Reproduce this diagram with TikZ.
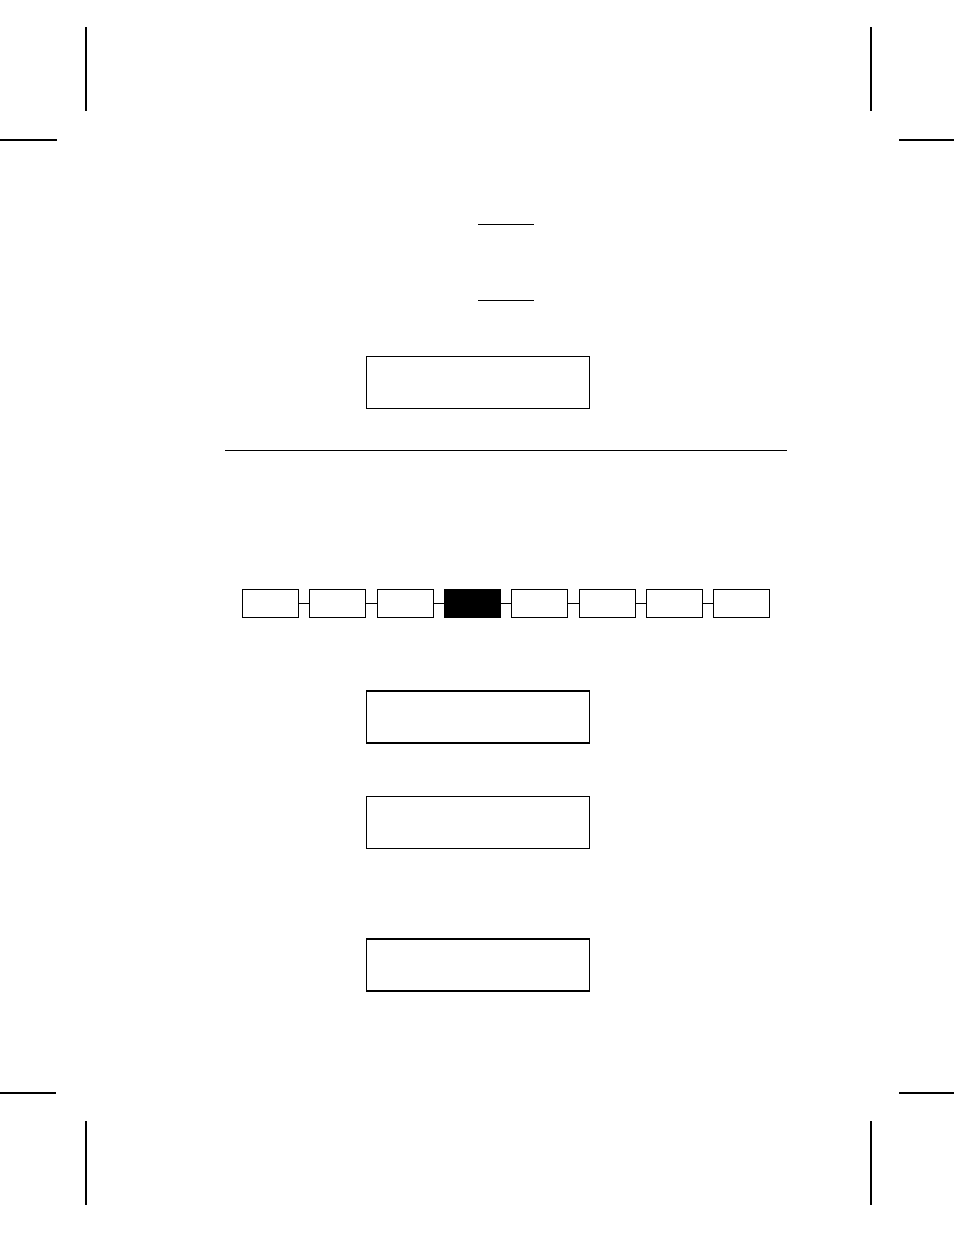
\documentclass[tikz,border=0pt]{standalone}
\begin{document}
\begin{tikzpicture}[x=1pt,y=-1pt,
  crop/.style={line width=2pt},
  thin rule/.style={line width=1pt},
  panel/.style={draw,line width=1.5pt,inner sep=0pt,outer sep=0pt,minimum width=223pt,minimum height=52pt},
  cell/.style={draw,line width=1pt,inner sep=0pt,outer sep=0pt,minimum width=56pt,minimum height=28pt},
  link/.style={line width=1pt}]
\useasboundingbox[fill=white] (0,0) rectangle (954,1235);
% crop marks
\draw[crop] (86,27) -- (86,111);
\draw[crop] (0,140) -- (57,140);
\draw[crop] (871,27) -- (871,111);
\draw[crop] (899,140) -- (954,140);
\draw[crop] (0,1093) -- (56,1093);
\draw[crop] (86,1121) -- (86,1205);
\draw[crop] (899,1093) -- (954,1093);
\draw[crop] (871,1121) -- (871,1205);
% short lines
\coordinate (s1a) at (478,224); \coordinate (s1b) at (534,224);
\coordinate (s2a) at (478,300); \coordinate (s2b) at (534,300);
\draw[thin rule] (s1a) -- (s1b);
\draw[thin rule] (s2a) -- (s2b);
% top panel
\node[panel] (p1) at (478,382.5) {};
% rule
\coordinate (ra) at (225,450); \coordinate (rb) at (787,450);
\draw[thin rule] (ra) -- (rb);
% row of cells
\foreach \i in {0,...,7} {
  \pgfmathsetmacro{\cx}{270.5+67.3*\i}
  \ifnum\i=3
    \node[cell,fill=black] (c\i) at (\cx,603.5) {};
  \else
    \node[cell] (c\i) at (\cx,603.5) {};
  \fi
}
\foreach \i [evaluate=\i as \j using int(\i+1)] in {0,...,6} {
  \draw[link] (c\i.east) -- (c\j.west);
}
% lower panels
\node[panel] (p2) at (478,717) {};
\draw[line width=1.5pt] ([yshift=-0.6pt]p2.south west) -- ([yshift=-0.6pt]p2.south east);
\node[panel] (p3) at (478,822.5) {};
\node[panel] (p4) at (478,965) {};
\end{tikzpicture}
\end{document}
